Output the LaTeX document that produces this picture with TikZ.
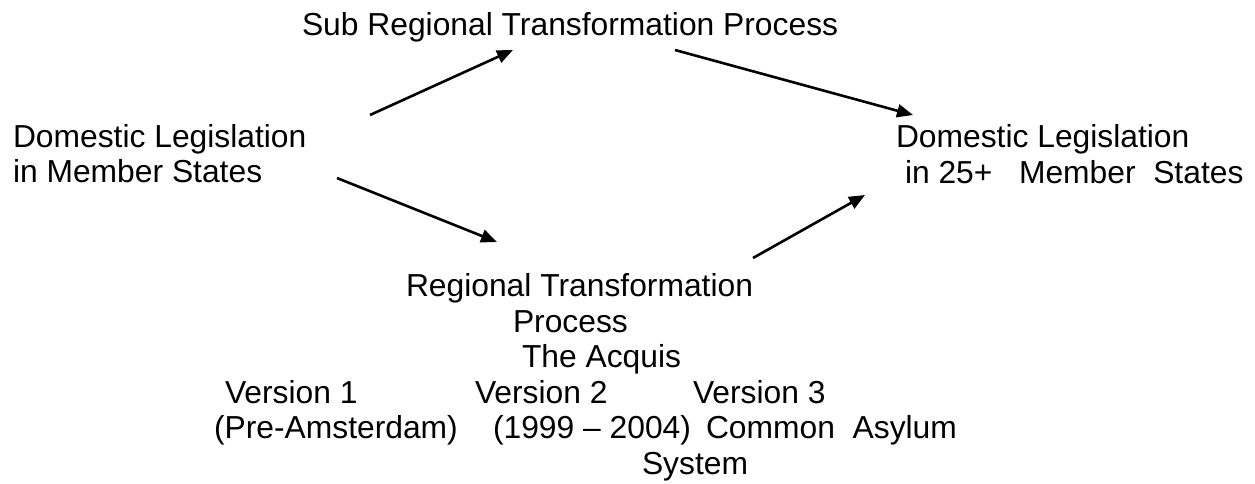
\documentclass[tikz,border=0pt]{standalone}
\usepackage{fontspec}
\setmainfont{Liberation Sans}
\usetikzlibrary{arrows.meta}
\begin{document}
\begin{tikzpicture}[x=1pt,y=-1pt,
  lbl/.style={anchor=base west,inner sep=0pt,outer sep=0pt,font=\fontsize{31.8}{36}\selectfont},
  conn/.style={line width=2.6pt,-{Triangle[length=16pt,width=13pt]}}]
\useasboundingbox (0,0) rectangle (1255,483);
% texts
\node[lbl] (sub) at (302,35) {Sub Regional Transformation Process};
\node[lbl] (dl1) at (13,147) {Domestic Legislation};
\node[lbl] (dl2) at (13,182) {in Member States};
\node[lbl] (dr1) at (896,147) {Domestic Legislation};
\node[lbl] (dr2) at (905,183) {in 25+\ \ \ Member\ \ States};
\node[lbl] (rt1) at (406,296) {Regional Transformation};
\node[lbl] (rt2) at (513,332) {Process};
\node[lbl] (acq) at (522,367) {The Acquis};
\node[lbl] (v1) at (225,403) {Version 1};
\node[lbl] (v2) at (475,403) {Version 2};
\node[lbl] (v3) at (693,403) {Version 3};
\node[lbl] (v1b) at (214,438) {(Pre-Amsterdam)};
\node[lbl] (v2b) at (493,438) {(1999 – 2004)};
\node[lbl] (v3b) at (706,438) {Common\ \ Asylum};
\node[lbl] (v3c) at (642,474) {System};
% connector ends
\coordinate (a1s) at (370,115); \coordinate (a1e) at (513,50);
\coordinate (a2s) at (337,178); \coordinate (a2e) at (497,242);
\coordinate (a3s) at (753,258); \coordinate (a3e) at (865,195);
\coordinate (a4s) at (675,50);  \coordinate (a4e) at (913,115);
\draw[conn] (a1s) -- (a1e);
\draw[conn] (a2s) -- (a2e);
\draw[conn] (a3s) -- (a3e);
\draw[conn] (a4s) -- (a4e);
\end{tikzpicture}
\end{document}
